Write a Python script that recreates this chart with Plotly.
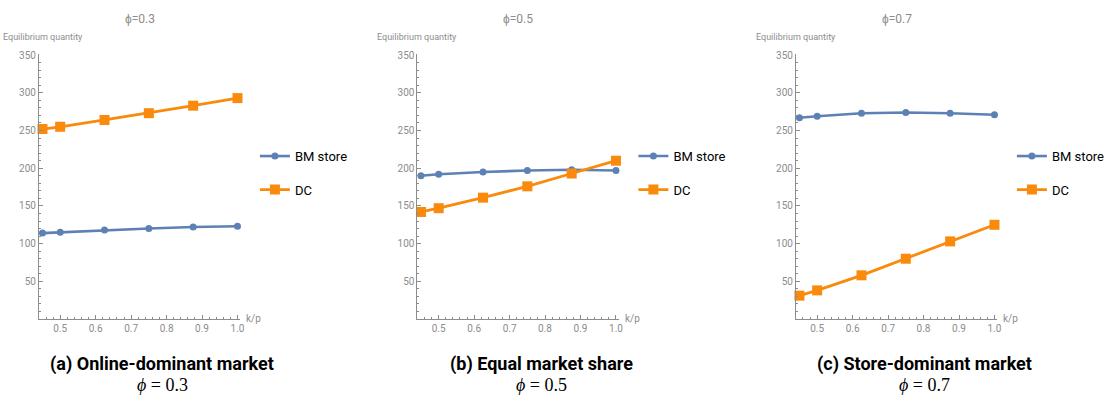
import plotly.graph_objects as go

# k/p values on the horizontal axis
k_over_p = [0.45, 0.5, 0.625, 0.75, 0.875, 1.0]

# Equilibrium quantities for each market share phi
bm_03 = [114, 115, 118, 120, 122, 123]
dc_03 = [252, 255, 264, 273, 283, 293]
bm_05 = [190, 192, 195, 197, 198, 197]
dc_05 = [142, 147, 161, 176, 193, 210]
bm_07 = [267, 269, 273, 274, 273, 271]
dc_07 = [31, 38, 58, 80, 103, 125]

phis = ["0.3", "0.5", "0.7"]
captions = ["(a) Online-dominant market", "(b) Equal market share", "(c) Store-dominant market"]
y_ticks = [50, 100, 150, 200, 250, 300, 350]
x_ticks = [0.5, 0.6, 0.7, 0.8, 0.9, 1.0]

W, H = 1110, 402
BLUE = "#5E81B5"
ORANGE = "#F98A0C"
GRAY = "#8C8C8C"
NARROW = "Roboto, Liberation Sans, sans-serif"


def narrow(size, color):
    return dict(family=NARROW, size=size, color=color)


# panel geometry in pixels: left edge, right edge of each axes box
panels_px = [(40, 247), (429, 636), (818, 1025)]
top_px, bottom_px = 50, 318

series = [(bm_03, dc_03), (bm_05, dc_05), (bm_07, dc_07)]

fig = go.Figure()
annotations = []
layout = dict(
    width=W, height=H,
    margin=dict(l=0, r=0, t=0, b=0),
    paper_bgcolor="white", plot_bgcolor="white",
    showlegend=True,
)

for i, ((bm, dc), (x0, x1)) in enumerate(zip(series, panels_px)):
    n = "" if i == 0 else str(i + 1)
    xa, ya = "x" + n, "y" + n
    leg_bm = "legend" if i == 0 else f"legend{2 * i + 1}"
    leg_dc = f"legend{2 * i + 2}"

    fig.add_trace(go.Scatter(
        x=k_over_p, y=bm, mode="lines+markers", name="BM store",
        line=dict(color=BLUE, width=2.6),
        marker=dict(symbol="circle", size=7, color=BLUE),
        xaxis=xa, yaxis=ya, legend=leg_bm, cliponaxis=False,
    ))
    fig.add_trace(go.Scatter(
        x=k_over_p, y=dc, mode="lines+markers", name="DC",
        line=dict(color=ORANGE, width=2.8),
        marker=dict(symbol="square", size=10, color=ORANGE),
        xaxis=xa, yaxis=ya, legend=leg_dc, cliponaxis=False,
    ))

    axis_common = dict(
        showline=True, linecolor=GRAY, linewidth=1,
        showgrid=False, zeroline=False,
        ticks="inside", ticklen=4, tickcolor=GRAY, tickwidth=1,
        tickfont=narrow(10, GRAY),
    )
    layout["xaxis" + n] = dict(
        axis_common,
        domain=[x0 / W, x1 / W], range=[0.44, 1.008],
        anchor=ya, tickvals=x_ticks, ticktext=[f"{v:.1f}" for v in x_ticks],
        minor=dict(dtick=0.02, tick0=0.44, ticks="inside", ticklen=2, tickcolor=GRAY),
    )
    layout["yaxis" + n] = dict(
        axis_common,
        domain=[1 - bottom_px / H, 1 - top_px / H], range=[0, 351],
        anchor=xa, tickvals=y_ticks,
        minor=dict(dtick=10, tick0=0, ticks="inside", ticklen=2, tickcolor=GRAY),
    )

    xc = (x0 + x1) / 2
    # panel title
    annotations.append(dict(
        text=f"ϕ=0.{[3, 5, 7][i]}", x=xc / W, y=1 - 14 / H, xref="paper", yref="paper",
        showarrow=False, font=narrow(12, GRAY),
        xanchor="center", yanchor="middle",
    ))
    # axis labels
    annotations.append(dict(
        text="Equilibrium quantity", x=max(x0, 44) / W, y=1 - 32 / H, xref="paper", yref="paper",
        showarrow=False, font=narrow(9, GRAY),
        xanchor="center", yanchor="middle",
    ))
    annotations.append(dict(
        text="k/p", x=(x1 + 4) / W, y=1 - 317 / H, xref="paper", yref="paper",
        showarrow=False, font=narrow(10, GRAY),
        xanchor="left", yanchor="middle",
    ))
    # captions under each panel
    cap_x = [167, 557, 950][i]
    annotations.append(dict(
        text=f"<b>{captions[i]}</b>", x=cap_x / W, y=1 - 364 / H, xref="paper", yref="paper",
        showarrow=False, font=narrow(18, "black"),
        xanchor="center", yanchor="middle",
    ))
    annotations.append(dict(
        text=f"<i>ϕ</i> = {phis[i]}", x=cap_x / W, y=1 - 385 / H, xref="paper", yref="paper",
        showarrow=False, font=dict(family="Liberation Serif, DejaVu Serif, serif", size=18, color="black"),
        xanchor="center", yanchor="middle",
    ))

    # legends to the right of each panel
    leg_x = (x1 + 15) / W
    for key, ypx in ((leg_bm, 153), (leg_dc, 187)):
        layout[key] = dict(
            x=leg_x, y=1 - ypx / H, xref="paper", yref="paper",
            xanchor="left", yanchor="middle",
            bgcolor="rgba(0,0,0,0)", borderwidth=0,
            font=narrow(13, "black"),
            itemwidth=30,
        )

layout["annotations"] = annotations
fig.update_layout(**layout)
fig.write_html("out.html")
